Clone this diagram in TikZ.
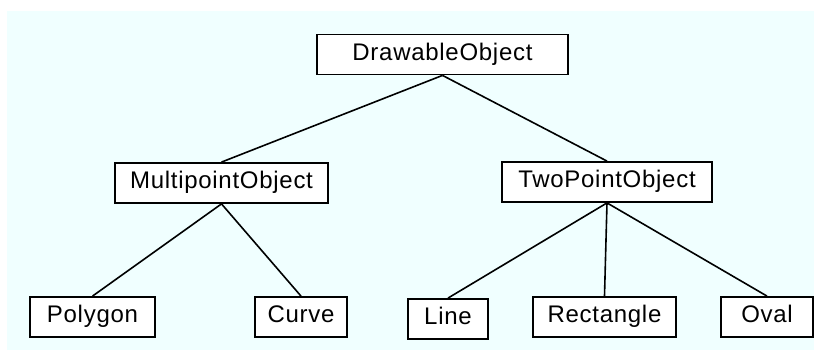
\documentclass[tikz,border=0pt]{standalone}
\usepackage{fontspec}
\setmainfont{Liberation Sans}[LetterSpace=3]
\definecolor{bgcyan}{RGB}{240,255,255}

\begin{document}
\begin{tikzpicture}[x=1pt,y=-1pt,
  cls/.style={draw, line width=1.8pt, fill=white,
    font=\fontsize{24}{28}\selectfont,
    text height=17pt, text depth=5pt, minimum height=40pt, inner xsep=0pt},
  link/.style={line width=1.6pt}]
  \useasboundingbox (0,0) rectangle (820,355);
  \fill[bgcyan] (7,11) rectangle (814,350);
  \node[cls, minimum width=251pt] (drawable) at (442.5,54.5) {DrawableObject};
  \node[cls, minimum width=213pt] (multi) at (221.5,183) {MultipointObject};
  \node[cls, minimum width=210pt] (two) at (607,182) {TwoPointObject};
  \node[cls, minimum width=125pt] (polygon) at (92.5,317) {Polygon};
  \node[cls, minimum width=92pt] (curve) at (301,317) {Curve};
  \node[cls, minimum width=80pt] (line) at (448,319) {Line};
  \node[cls, minimum width=143pt] (rect) at (604.5,317) {Rectangle};
  \node[cls, minimum width=92pt] (oval) at (767,317) {Oval};
  \draw[link] (drawable.south) -- (multi.north);
  \draw[link] (drawable.south) -- (two.north);
  \draw[link] (multi.south) -- (polygon.north);
  \draw[link] (multi.south) -- (curve.north);
  \draw[link] (two.south) -- (line.north);
  \draw[link] (two.south) -- (rect.north);
  \draw[link] (two.south) -- (oval.north);
\end{tikzpicture}
\end{document}
